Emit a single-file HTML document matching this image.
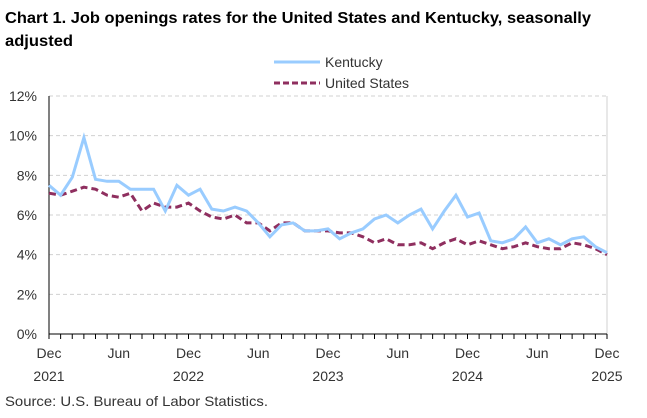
<!DOCTYPE html>
<html><head><meta charset="utf-8"><style>
body{margin:0;background:#fff;font-family:"Liberation Sans",sans-serif;}
</style></head><body>
<svg width="647" height="413" xmlns="http://www.w3.org/2000/svg" font-family="Liberation Sans, sans-serif">
<text x="5" y="23" font-size="16" font-weight="bold" fill="#000" textLength="586" lengthAdjust="spacingAndGlyphs">Chart 1. Job openings rates for the United States and Kentucky, seasonally</text>
<text x="5" y="46" font-size="16" font-weight="bold" fill="#000" textLength="68" lengthAdjust="spacingAndGlyphs">adjusted</text>
<line x1="274" y1="62" x2="320" y2="62" stroke="#99ccff" stroke-width="3"/>
<text x="325" y="67" font-size="14" fill="#333">Kentucky</text>
<line x1="274" y1="83" x2="320" y2="83" stroke="#8f2f5f" stroke-width="3" stroke-dasharray="6,3"/>
<text x="325" y="88" font-size="14" fill="#333">United States</text>
<g id="grid" stroke="#d0d0d0" stroke-dasharray="4,3" stroke-width="1"></g>
<line x1="607" y1="96" x2="607" y2="334" stroke="#d0d0d0"/>
<line x1="49" y1="96" x2="49" y2="334" stroke="#000"/>
<line x1="49" y1="334" x2="607" y2="334" stroke="#000"/>
<g id="ticks" stroke="#000"></g>
<g id="ylab" font-size="14" fill="#333" text-anchor="end"></g>
<g id="xlab" font-size="14" fill="#333" text-anchor="middle"></g>
<polyline id="us" fill="none" stroke="#8f2f5f" stroke-width="3" stroke-dasharray="7,4"/>
<polyline id="ky" fill="none" stroke="#99ccff" stroke-width="3"/>
<text x="5" y="406" font-size="14" fill="#333" textLength="263" lengthAdjust="spacingAndGlyphs">Source: U.S. Bureau of Labor Statistics.</text>
</svg>
<script>
var ns="http://www.w3.org/2000/svg";
function el(p,t,a,txt){var e=document.createElementNS(ns,t);for(var k in a)e.setAttribute(k,a[k]);if(txt)e.textContent=txt;document.getElementById(p).appendChild(e);}
var L=49,R=607,T=96,B=334,dx=(R-L)/48;
function Y(v){return B-(B-T)*v/12;}
for(var v=2;v<=12;v+=2)el("grid","line",{x1:L,x2:R,y1:Y(v),y2:Y(v)});
for(var v=0;v<=12;v+=2)el("ylab","text",{x:37,y:Y(v)+5},v+"%");
for(var i=0;i<=48;i++)el("ticks","line",{x1:L+i*dx,x2:L+i*dx,y1:334,y2:339});
var yrs=["2021","2022","2023","2024","2025"];
for(var i=0;i<=8;i++){var x=L+i*6*dx;el("xlab","text",{x:x,y:358},i%2?"Jun":"Dec");if(i%2==0)el("xlab","text",{x:x,y:381},yrs[i/2]);}
var ky=[7.5,7.0,7.9,9.9,7.8,7.7,7.7,7.3,7.3,7.3,6.2,7.5,7.0,7.3,6.3,6.2,6.4,6.2,5.6,4.9,5.5,5.6,5.2,5.2,5.3,4.8,5.1,5.3,5.8,6.0,5.6,6.0,6.3,5.3,6.2,7.0,5.9,6.1,4.7,4.6,4.8,5.4,4.6,4.8,4.5,4.8,4.9,4.4,4.1];
var us=[7.1,7.0,7.2,7.4,7.3,7.0,6.9,7.1,6.2,6.6,6.4,6.4,6.6,6.2,5.9,5.8,6.0,5.6,5.6,5.2,5.6,5.6,5.2,5.2,5.2,5.1,5.1,4.9,4.6,4.8,4.5,4.5,4.6,4.3,4.6,4.8,4.5,4.7,4.5,4.3,4.4,4.6,4.4,4.3,4.3,4.6,4.5,4.3,4.0];
function pts(a){return a.map(function(v,i){return (L+i*dx).toFixed(1)+","+Y(v).toFixed(1)}).join(" ");}
document.getElementById("ky").setAttribute("points",pts(ky));
document.getElementById("us").setAttribute("points",pts(us));
</script>
</body></html>
